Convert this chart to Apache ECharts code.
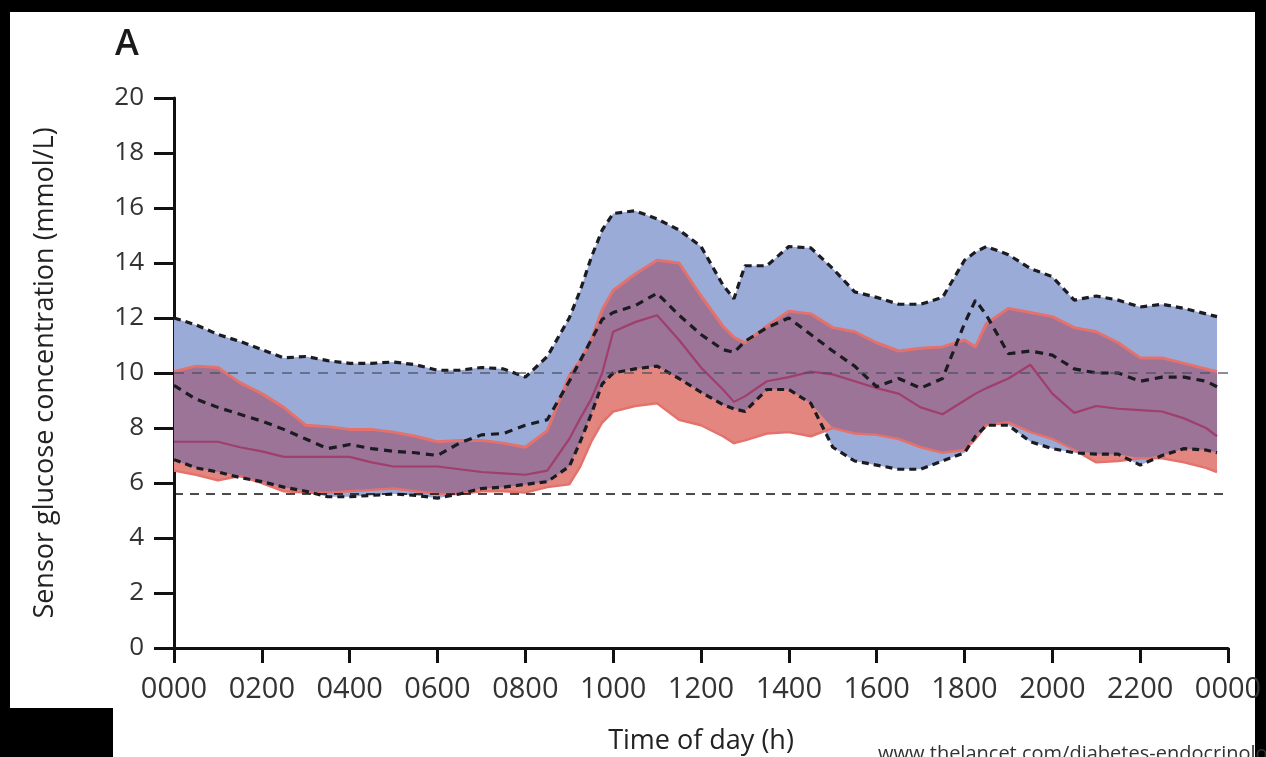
<!DOCTYPE html>
<html>
<head>
<meta charset="utf-8">
<script src="https://cdn.jsdelivr.net/npm/echarts@6/dist/echarts.min.js"></script>
<style>
html,body{margin:0;padding:0;background:#000;}
#chart{width:1266px;height:757px;}
</style>
</head>
<body>
<div id="chart"></div>
<script>
// ---- data (hours of day) ----
const hours = [0,0.5,1,1.5,2,2.5,3,3.5,4,4.5,5,5.5,6,6.5,7,7.5,8,8.5,9,9.25,9.5,9.75,10,10.5,11,11.5,12,12.5,12.75,13,13.5,14,14.5,15,15.5,16,16.5,17,17.5,18,18.25,18.5,19,19.5,20,20.5,21,21.5,22,22.5,23,23.5,23.75];
// blue group (dotted black outline + dashed median)
const blueUpper = [12.0,11.75,11.4,11.15,10.85,10.55,10.6,10.45,10.35,10.35,10.4,10.3,10.1,10.1,10.2,10.15,9.85,10.6,12.0,13.0,14.2,15.2,15.8,15.9,15.6,15.2,14.6,13.2,12.7,13.9,13.9,14.6,14.55,13.8,12.95,12.75,12.5,12.5,12.75,14.1,14.4,14.6,14.3,13.8,13.5,12.65,12.8,12.65,12.4,12.5,12.35,12.15,12.05];
const blueLower = [6.85,6.55,6.4,6.2,6.05,5.85,5.7,5.5,5.5,5.55,5.6,5.55,5.45,5.6,5.8,5.85,5.95,6.05,6.6,7.5,8.5,9.6,10.0,10.15,10.25,9.8,9.3,8.85,8.7,8.6,9.4,9.4,8.9,7.3,6.8,6.65,6.5,6.5,6.8,7.1,7.7,8.1,8.1,7.5,7.25,7.1,7.05,7.05,6.65,7.0,7.25,7.2,7.1];
const blueMedian = [9.55,9.05,8.75,8.5,8.25,7.95,7.6,7.25,7.4,7.25,7.15,7.1,7.0,7.45,7.75,7.8,8.1,8.3,9.7,10.45,11.2,11.95,12.2,12.45,12.9,12.1,11.4,10.85,10.75,11.15,11.65,12.0,11.4,10.8,10.25,9.5,9.8,9.45,9.8,11.8,12.65,12.1,10.7,10.8,10.65,10.15,10.0,10.0,9.7,9.85,9.85,9.7,9.5];
// red group (red band + solid median)
const redUpper = [10.05,10.25,10.2,9.65,9.25,8.75,8.1,8.05,7.95,7.95,7.85,7.7,7.5,7.55,7.55,7.45,7.3,7.9,9.9,10.45,11.2,12.3,13.0,13.6,14.1,14.0,12.8,11.7,11.3,11.1,11.7,12.25,12.15,11.65,11.5,11.1,10.8,10.9,10.95,11.2,10.95,11.8,12.35,12.2,12.05,11.65,11.5,11.1,10.55,10.55,10.35,10.15,10.05];
const redLower = [6.45,6.3,6.1,6.25,6.0,5.7,5.65,5.65,5.7,5.75,5.8,5.7,5.6,5.6,5.7,5.7,5.65,5.85,5.95,6.6,7.5,8.2,8.6,8.8,8.9,8.3,8.1,7.7,7.45,7.55,7.8,7.85,7.7,8.0,7.8,7.75,7.6,7.3,7.1,7.2,7.6,8.1,8.2,7.85,7.6,7.2,6.75,6.8,6.9,6.9,6.75,6.55,6.4];
const redMedian = [7.5,7.5,7.5,7.3,7.15,6.95,6.95,6.95,6.95,6.75,6.6,6.6,6.6,6.5,6.4,6.35,6.3,6.45,7.6,8.35,9.05,10.0,11.5,11.85,12.1,11.2,10.2,9.4,8.95,9.15,9.7,9.85,10.05,9.95,9.7,9.45,9.25,8.75,8.5,9.0,9.25,9.45,9.8,10.3,9.25,8.55,8.8,8.7,8.65,8.6,8.35,8.0,7.7];
// reference lines and ticks
const refHigh = 10;
const refLow = 5.6;
const xTickLabels = ['0000','0200','0400','0600','0800','1000','1200','1400','1600','1800','2000','2200','0000'];
const yTicks = [0,2,4,6,8,10,12,14,16,18,20];

// ---- derived series for the library ----
const pair = arr => hours.map((h,i) => [h, arr[i]]);
const ovLo = hours.map((h,i) => Math.max(blueLower[i], redLower[i]));
const ovHi = hours.map((h,i) => Math.min(blueUpper[i], redUpper[i]));

const BLUE = '#9aabd8', SALMON = '#e3867f', PURPLE = '#9b7497';
const FONT = 'Open Sans';

// band polygon between two value arrays, positioned through the axes (api.coord)
const band = (name, upper, lower, color) => ({
  name, type:'custom', silent:true,
  data:[[hours[0], lower[0]]],
  renderItem:(params, api) => {
    const pts = [];
    for (let i = 0; i < hours.length; i++) pts.push(api.coord([hours[i], upper[i]]));
    for (let i = hours.length - 1; i >= 0; i--) pts.push(api.coord([hours[i], lower[i]]));
    return {type:'polygon', shape:{points:pts}, style:{fill:color, stroke:null}};
  }
});
const line = (name, data, color, width, type) => ({
  name, type:'line', data, symbol:'none', silent:true,
  lineStyle:{color, width, type, cap:'butt'}
});

const chart = echarts.init(document.getElementById('chart'), null, {renderer:'canvas'});
chart.setOption({
  backgroundColor:'#000',
  animation:false,
  textStyle:{fontFamily:FONT},
  graphic:[
    {type:'rect', z:-10, shape:{x:10, y:12, width:1245, height:745}, style:{fill:'#fff'}},
    {type:'rect', z:-9, shape:{x:10, y:708, width:103, height:49}, style:{fill:'#000'}},
    {type:'text', z:-8, left:878, top:744, style:{text:'www.thelancet.com/diabetes-endocrinology', font:'20px "Open Sans"', fill:'#333'}}
  ],
  title:{
    text:'A', left:110, top:22,
    textStyle:{fontFamily:FONT, fontSize:36, fontWeight:600, color:'#1a1a1a'}
  },
  grid:{left:174, right:38, top:98, bottom:109, containLabel:false, outerBoundsMode:'none'},
  xAxis:{
    type:'value', min:0, max:24, interval:2,
    name:'Time of day (h)', nameLocation:'middle', nameGap:80,
    nameTextStyle:{fontFamily:FONT, fontSize:27, color:'#222'},
    axisLine:{show:true, lineStyle:{color:'#111', width:3}},
    axisTick:{show:true, length:15, lineStyle:{color:'#111', width:3}},
    axisLabel:{margin:27, fontFamily:FONT, fontSize:29, color:'#333',
      formatter:v => xTickLabels[Math.round(v/2)]},
    splitLine:{show:false}
  },
  yAxis:{
    type:'value', min:yTicks[0], max:yTicks[yTicks.length-1], interval:2,
    name:'Sensor glucose concentration (mmol/L)', nameLocation:'middle', nameGap:115,
    nameTextStyle:{fontFamily:FONT, fontSize:27, color:'#222'},
    axisLine:{show:true, lineStyle:{color:'#111', width:3}},
    axisTick:{show:true, length:20, lineStyle:{color:'#111', width:3}},
    axisLabel:{margin:30, fontFamily:FONT, fontSize:26, color:'#333'},
    splitLine:{show:false}
  },
  series:[
    band('blueBand', blueUpper, blueLower, BLUE),
    band('redBand', redUpper, redLower, SALMON),
    band('overlapBand', ovHi, ovLo, PURPLE),
    line('redUpperLine', pair(redUpper), '#e5716d', 3, 'solid'),
    line('redLowerLine', pair(redLower), '#e5716d', 2.5, 'solid'),
    line('redMedianLine', pair(redMedian), '#a03e6c', 2.2, 'solid'),
    {
      name:'refs', type:'line', data:[], symbol:'none', silent:true,
      markLine:{
        silent:true, symbol:'none', label:{show:false},
        data:[
          {yAxis:refHigh, lineStyle:{color:'#4a4f60', width:1.6, type:[10,8], opacity:0.85}},
          {yAxis:refLow, lineStyle:{color:'#111', width:1.6, type:[9,7]}}
        ]
      }
    },
    line('blueUpperLine', pair(blueUpper), '#1b1b22', 3.2, [7,5]),
    line('blueLowerLine', pair(blueLower), '#1b1b22', 3.2, [7,5]),
    line('blueMedianLine', pair(blueMedian), '#1b1b22', 3.2, [8,6])
  ]
});
</script>
</body>
</html>
